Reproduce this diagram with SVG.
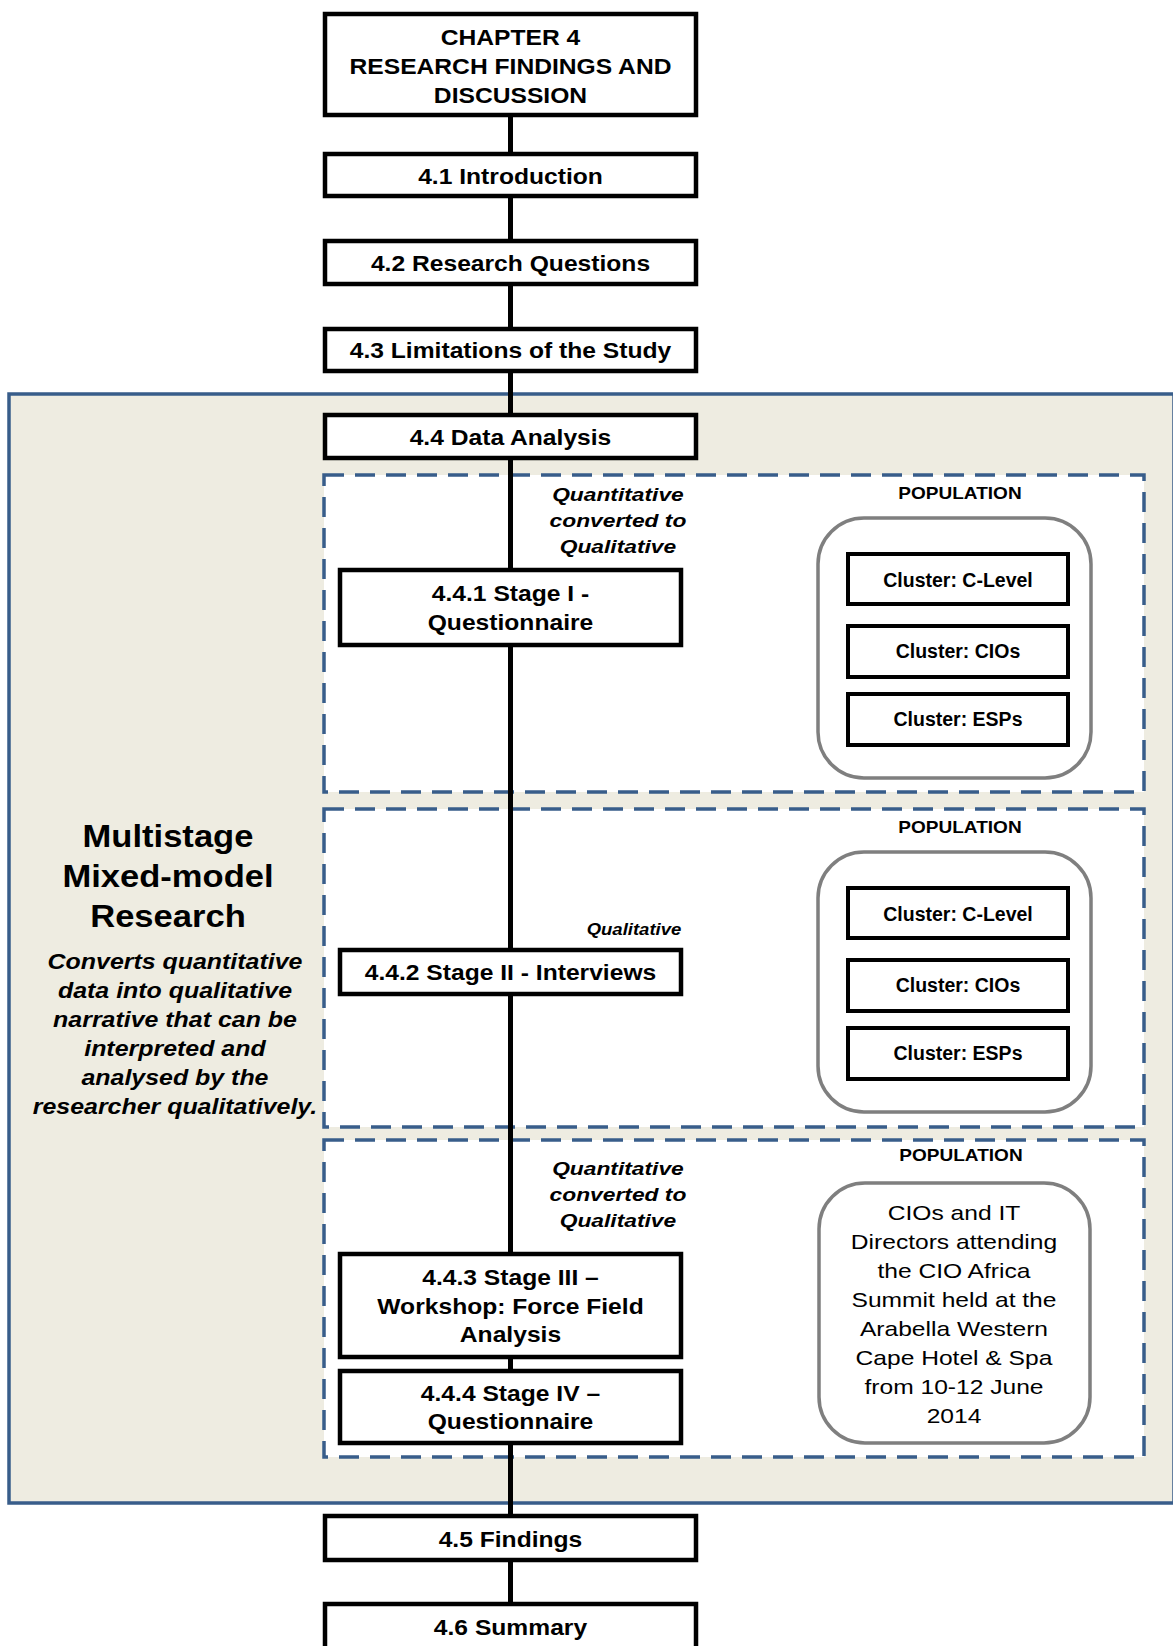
<svg xmlns="http://www.w3.org/2000/svg" width="1173" height="1646" viewBox="0 0 1173 1646">
  <style>
    .box { fill: #ffffff; stroke: #000000; stroke-width: 4.5; }
    .clu { fill: #ffffff; stroke: #000000; stroke-width: 4; }
    .pop { fill: #ffffff; stroke: #7f7f7f; stroke-width: 3.5; }
    .panel { fill: #ffffff; stroke: #385d8a; stroke-width: 3.5; stroke-dasharray: 20 11; }
    .link { stroke: #000000; stroke-width: 5; fill: none; }
    text { font-family: "Liberation Sans", Arial, sans-serif; fill: #000000; text-anchor: middle; }
    .w { transform-box: fill-box; transform-origin: center; }
    .t { font-size: 22px; font-weight: bold; transform: scaleX(1.12); }
    .ct { font-size: 19.5px; font-weight: bold; }
    .ph { font-size: 17px; font-weight: bold; transform: scaleX(1.12); }
    .lab { font-size: 19px; font-weight: bold; font-style: italic; transform: scaleX(1.2); }
    .lab2 { font-size: 17px; font-weight: bold; font-style: italic; transform: scaleX(1.09); }
    .big { font-size: 32px; font-weight: bold; transform: scaleX(1.08); }
    .para { font-size: 21.5px; font-weight: bold; font-style: italic; transform: scaleX(1.16); }
    .body { font-size: 20.5px; transform: scaleX(1.2); }
  </style>

  <!-- multistage analysis container -->
  <g id="analysis-container">
    <rect x="9" y="394" width="1165" height="1109" fill="#eeece1" stroke="#385d8a" stroke-width="3.5"/>
    <text class="w big" x="168" y="847">Multistage</text>
    <text class="w big" x="168" y="887">Mixed-model</text>
    <text class="w big" x="168" y="927">Research</text>
    <text class="w para" x="175" y="969">Converts quantitative</text>
    <text class="w para" x="175" y="998">data into qualitative</text>
    <text class="w para" x="175" y="1027">narrative that can be</text>
    <text class="w para" x="175" y="1056">interpreted and</text>
    <text class="w para" x="175" y="1085">analysed by the</text>
    <text class="w para" x="175" y="1114">researcher qualitatively.</text>
  </g>

  <!-- dashed stage panels -->
  <g id="panel-stage1">
    <rect class="panel" x="324" y="475" width="820" height="317"/>
  </g>
  <g id="panel-stage2">
    <rect class="panel" x="324" y="809" width="820" height="318"/>
  </g>
  <g id="panel-stage3">
    <rect class="panel" x="324" y="1140" width="820" height="317"/>
  </g>

  <!-- spine connectors -->
  <g id="connectors">
    <line class="link" x1="510.5" y1="115" x2="510.5" y2="154"/>
    <line class="link" x1="510.5" y1="196" x2="510.5" y2="241"/>
    <line class="link" x1="510.5" y1="284" x2="510.5" y2="329"/>
    <line class="link" x1="510.5" y1="371" x2="510.5" y2="415"/>
    <line class="link" x1="510.5" y1="458" x2="510.5" y2="570"/>
    <line class="link" x1="510.5" y1="645" x2="510.5" y2="950"/>
    <line class="link" x1="510.5" y1="994" x2="510.5" y2="1254"/>
    <line class="link" x1="510.5" y1="1357" x2="510.5" y2="1371"/>
    <line class="link" x1="510.5" y1="1443" x2="510.5" y2="1516"/>
    <line class="link" x1="510.5" y1="1560" x2="510.5" y2="1604"/>
  </g>

  <g id="chapter">
    <rect class="box" x="325" y="14" width="371" height="101"/>
    <text class="w t" x="510.5" y="45">CHAPTER 4</text>
    <text class="w t" x="510.5" y="74">RESEARCH FINDINGS AND</text>
    <text class="w t" x="510.5" y="103">DISCUSSION</text>
  </g>
  <g id="introduction">
    <rect class="box" x="325" y="154" width="371" height="42"/>
    <text class="w t" x="510.5" y="184">4.1 Introduction</text>
  </g>
  <g id="research-questions">
    <rect class="box" x="325" y="241" width="371" height="43"/>
    <text class="w t" x="510.5" y="271">4.2 Research Questions</text>
  </g>
  <g id="limitations">
    <rect class="box" x="325" y="329" width="371" height="42"/>
    <text class="w t" x="510.5" y="358">4.3 Limitations of the Study</text>
  </g>
  <g id="data-analysis">
    <rect class="box" x="325" y="415" width="371" height="43"/>
    <text class="w t" x="510.5" y="445">4.4 Data Analysis</text>
  </g>

  <!-- stage I -->
  <g id="label-stage1">
    <text class="w lab" x="618" y="501">Quantitative</text>
    <text class="w lab" x="618" y="527">converted to</text>
    <text class="w lab" x="618" y="553">Qualitative</text>
  </g>
  <g id="stage1">
    <rect class="box" x="340" y="570" width="341" height="75"/>
    <text class="w t" x="510.5" y="601">4.4.1 Stage I -</text>
    <text class="w t" x="510.5" y="630">Questionnaire</text>
  </g>
  <g id="population-stage1">
    <text class="w ph" x="960" y="499">POPULATION</text>
    <rect class="pop" x="818" y="518" width="273" height="260" rx="46"/>
  </g>
  <g id="stage1-clevel">
    <rect class="clu" x="848" y="554" width="220" height="50"/>
    <text class="ct" x="958" y="587">Cluster: C-Level</text>
  </g>
  <g id="stage1-cios">
    <rect class="clu" x="848" y="626" width="220" height="51"/>
    <text class="ct" x="958" y="658">Cluster: CIOs</text>
  </g>
  <g id="stage1-esps">
    <rect class="clu" x="848" y="694" width="220" height="51"/>
    <text class="ct" x="958" y="726">Cluster: ESPs</text>
  </g>

  <!-- stage II -->
  <g id="label-stage2">
    <text class="w lab2" x="634" y="935">Qualitative</text>
  </g>
  <g id="stage2">
    <rect class="box" x="340" y="950" width="341" height="44"/>
    <text class="w t" x="510.5" y="980">4.4.2 Stage II - Interviews</text>
  </g>
  <g id="population-stage2">
    <text class="w ph" x="960" y="833">POPULATION</text>
    <rect class="pop" x="818" y="852" width="273" height="260" rx="46"/>
  </g>
  <g id="stage2-clevel">
    <rect class="clu" x="848" y="888" width="220" height="50"/>
    <text class="ct" x="958" y="921">Cluster: C-Level</text>
  </g>
  <g id="stage2-cios">
    <rect class="clu" x="848" y="960" width="220" height="51"/>
    <text class="ct" x="958" y="992">Cluster: CIOs</text>
  </g>
  <g id="stage2-esps">
    <rect class="clu" x="848" y="1028" width="220" height="51"/>
    <text class="ct" x="958" y="1060">Cluster: ESPs</text>
  </g>

  <!-- stages III and IV -->
  <g id="label-stage3">
    <text class="w lab" x="618" y="1175">Quantitative</text>
    <text class="w lab" x="618" y="1201">converted to</text>
    <text class="w lab" x="618" y="1227">Qualitative</text>
  </g>
  <g id="stage3">
    <rect class="box" x="340" y="1254" width="341" height="103"/>
    <text class="w t" x="510.5" y="1285">4.4.3 Stage III –</text>
    <text class="w t" x="510.5" y="1314">Workshop: Force Field</text>
    <text class="w t" x="510.5" y="1342">Analysis</text>
  </g>
  <g id="stage4">
    <rect class="box" x="340" y="1371" width="341" height="72"/>
    <text class="w t" x="510.5" y="1401">4.4.4 Stage IV –</text>
    <text class="w t" x="510.5" y="1429">Questionnaire</text>
  </g>
  <g id="population-stage3">
    <text class="w ph" x="961" y="1161">POPULATION</text>
    <rect class="pop" x="819" y="1183" width="271" height="260" rx="46"/>
    <text class="w body" x="954" y="1220">CIOs and IT</text>
    <text class="w body" x="954" y="1249">Directors attending</text>
    <text class="w body" x="954" y="1278">the CIO Africa</text>
    <text class="w body" x="954" y="1307">Summit held at the</text>
    <text class="w body" x="954" y="1336">Arabella Western</text>
    <text class="w body" x="954" y="1365">Cape Hotel &amp; Spa</text>
    <text class="w body" x="954" y="1394">from 10-12 June</text>
    <text class="w body" x="954" y="1423">2014</text>
  </g>

  <g id="findings">
    <rect class="box" x="325" y="1516" width="371" height="44"/>
    <text class="w t" x="510.5" y="1547">4.5 Findings</text>
  </g>
  <g id="summary">
    <rect class="box" x="325" y="1604" width="371" height="70"/>
    <text class="w t" x="510.5" y="1635">4.6 Summary</text>
  </g>
</svg>
